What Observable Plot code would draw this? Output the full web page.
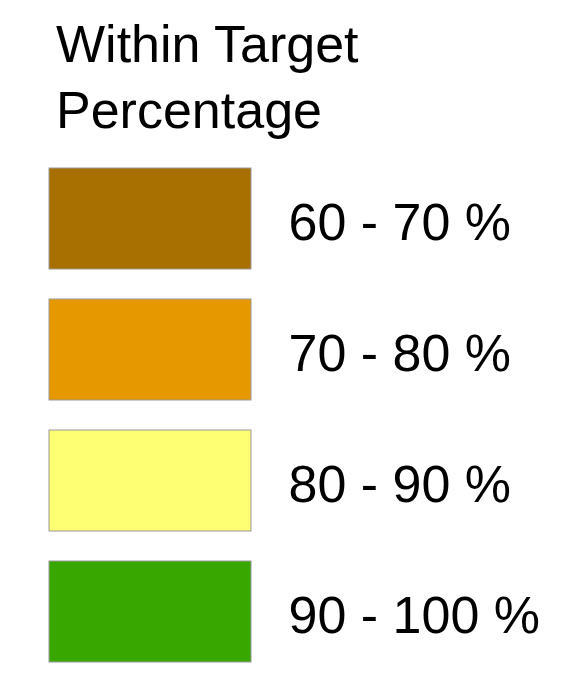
<!DOCTYPE html>
<html>
<head>
<meta charset="utf-8">
<script src="https://cdn.jsdelivr.net/npm/d3@7"></script>
<script src="https://cdn.jsdelivr.net/npm/@observablehq/plot@0.6"></script>
<style>
  html, body { margin: 0; padding: 0; background: #fff; }
  body { width: 573px; height: 675px; overflow: hidden; font-family: "Liberation Sans", Arial, sans-serif; }
  #title { padding: 11px 0 0 56px; font-size: 52px; line-height: 66px; color: #000; height: 133px; }
</style>
</head>
<body>
<div id="title">Within Target<br>Percentage</div>
<div id="chart"></div>
<script>
const classes = ["60 - 70 %", "70 - 80 %", "80 - 90 %", "90 - 100 %"];
const colors = ["#A87000", "#E69800", "#FFFF73", "#38A800"];

const data = classes.map((c) => ({label: c}));

const chart = Plot.plot({
  width: 573,
  height: 531,
  margin: 0,
  style: {fontFamily: '"Liberation Sans", Arial, sans-serif', background: "#fff", color: "#000"},
  x: {type: "band", domain: ["swatch", "label"], range: [49, 490], paddingInner: 0.155, paddingOuter: 0, axis: null},
  y: {type: "band", domain: classes, range: [23, 519], paddingInner: 0.23, paddingOuter: 0, axis: null},
  color: {type: "ordinal", domain: classes, range: colors, legend: false},
  marks: [
    Plot.cell(data, {x: () => "swatch", y: "label", fill: "label", stroke: "#999999", strokeWidth: 1, inset: 0}),
    Plot.text(data, {x: () => "label", y: "label", text: "label", textAnchor: "start", dx: -101, dy: 4, fontSize: 52, fill: "#000"})
  ]
});
document.getElementById("chart").appendChild(chart);
</script>
</body>
</html>
